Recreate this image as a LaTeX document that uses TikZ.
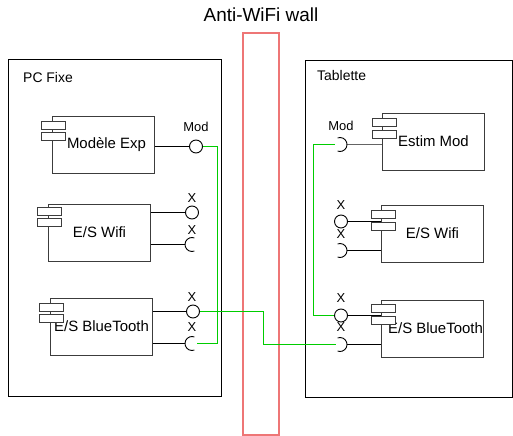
\documentclass[tikz,border=0pt]{standalone}
\usepackage{fontspec}
\setmainfont{Liberation Sans}
\begin{document}
\begin{tikzpicture}[x=1bp,y=-1bp,
  container/.style={draw=black,line width=0.9bp},
  comp/.style={draw={rgb,255:red,60;green,60;blue,60},line width=0.9bp,fill=white,minimum width=102bp,minimum height=57bp,inner sep=0pt,font=\fontsize{15}{17}\selectfont},
  tab/.style={draw={rgb,255:red,60;green,60;blue,60},line width=0.9bp,fill=white,minimum width=24bp,minimum height=8.5bp,inner sep=0pt},
  ball/.style={draw=black,line width=0.9bp,circle,minimum size=13bp,inner sep=0pt,fill=white},
  wire/.style={draw=black,line width=0.9bp},
  greenwire/.style={draw={rgb,255:red,0;green,205;blue,0},line width=1.4bp},
  plab/.style={font=\fontsize{13}{15}\selectfont,inner sep=0pt},
  clab/.style={font=\fontsize{14}{16}\selectfont,inner sep=0pt,anchor=west},
  wall/.style={draw={rgb,255:red,238;green,118;blue,118},line width=1.2bp}
]
\useasboundingbox (0,0) rectangle (513,436);
% title and wall
\node[font=\fontsize{19}{22}\selectfont,inner sep=0pt] (title) at (261,15) {Anti-WiFi wall};
\node[wall,minimum width=36bp,minimum height=402bp,inner sep=0pt] (wall) at (261,234) {};
% containers
\node[container,minimum width=213bp,minimum height=337bp,inner sep=0pt] (pc) at (115,228) {};
\node[clab] (pclab) at (23,78) {PC Fixe};
\node[container,minimum width=207bp,minimum height=337bp,inner sep=0pt] (tab) at (409,229) {};
\node[clab] (tablab) at (317,76) {Tablette};

% ---------- Left components ----------
% Modele Exp
\node[ball] (mec) at (196,146.5) {};
\node[plab] (mecl) at (196,127) {Mod};
\node[comp] (me) at (103.5,145) {\hspace{6pt}Modèle Exp};
\node[tab] (met1) at (53.5,125.5) {};
\node[tab] (met2) at (53.5,136.5) {};
\draw[wire] (mec.west -| me.east) -- (mec.west);

% E/S Wifi
\node[comp] (lw) at (99.5,232.5) {E/S Wifi};
\node[tab] (lwt1) at (49.5,211.5) {};
\node[tab] (lwt2) at (49.5,222.5) {};
\node[ball] (lwc) at (192,212.5) {};
\node[plab] (lwcl) at (192,198) {X};
\coordinate (lws) at (192,244.5);
\node[plab] (lwsl) at (192,230) {X};
\draw[wire] (lwc.west -| lw.east) -- (lwc.west);
\draw[wire] (lws -| lw.east) -- ([xshift=-7bp]lws);
\draw[wire] ([shift={(70:7)}]lws) arc[start angle=70,end angle=290,radius=7];

% E/S BlueTooth
\node[comp] (lb) at (101.5,326.5) {E/S BlueTooth};
\node[tab] (lbt1) at (51.5,307.5) {};
\node[tab] (lbt2) at (51.5,318.5) {};
\node[ball] (lbc) at (193,311.5) {};
\node[plab] (lbcl) at (192,297) {X};
\coordinate (lbs) at (192,343.5);
\node[plab] (lbsl) at (192,327) {X};
\draw[wire] (lbc.west -| lb.east) -- (lbc.west);
\draw[wire] (lbs -| lb.east) -- ([xshift=-7bp]lbs);
\draw[wire] ([shift={(70:7)}]lbs) arc[start angle=70,end angle=290,radius=7];

% ---------- Right components ----------
% Estim Mod
\node[comp] (em) at (433.5,141.5) {Estim Mod};
\node[tab] (emt1) at (384.5,122.5) {};
\node[tab] (emt2) at (384.5,134.5) {};
\coordinate (ems) at (340,144.5);
\node[plab] (emsl) at (341,126) {Mod};
\draw[wire,draw={rgb,255:red,100;green,100;blue,100}] ([xshift=7bp]ems) -- (ems -| em.west);
\draw[wire] ([shift={(-110:7)}]ems) arc[start angle=-110,end angle=110,radius=7];

% E/S Wifi right
\node[ball] (rwc) at (341,221.5) {};
\node[plab] (rwcl) at (341,205) {X};
\coordinate (rws) at (340,250.5);
\node[plab] (rwsl) at (341,234) {X};
\node[comp] (rw) at (432.5,233.5) {E/S Wifi};
\draw[wire] (rwc.east) -- (rwc.east -| rw.west);
\draw[wire] ([xshift=7bp]rws) -- (rws -| rw.west);
\draw[wire] ([shift={(-110:7)}]rws) arc[start angle=-110,end angle=110,radius=7];
\node[tab] (rwt1) at (383.5,214.5) {};
\node[tab] (rwt2) at (383.5,226.5) {};

% E/S BlueTooth right
\node[ball] (rbc) at (341,315.5) {};
\node[plab] (rbcl) at (341,298) {X};
\coordinate (rbs) at (340,344.5);
\node[plab] (rbsl) at (341,327) {X};
\node[comp] (rb) at (432.5,328.5) {\hspace{6pt}E/S BlueTooth};
\draw[wire] (rbc.east) -- (rbc.east -| rb.west);
\draw[wire] ([xshift=7bp]rbs) -- (rbs -| rb.west);
\draw[wire] ([shift={(-110:7)}]rbs) arc[start angle=-110,end angle=110,radius=7];
\node[tab] (rbt1) at (383.5,308.5) {};
\node[tab] (rbt2) at (383.5,320.5) {};

% ---------- Green connections ----------
\coordinate (gl1) at (217.5,146.5);
\draw[greenwire] (mec.east) -- (gl1) |- ([xshift=5bp]lbs);
\coordinate (gm) at (263.5,311.5);
\draw[greenwire] (lbc.east) -- (gm) |- ([xshift=-4bp]rbs);
\coordinate (gr1) at (313.5,144.5);
\draw[greenwire] ([xshift=-5bp]ems) -- (gr1) |- (rbc.west);
\end{tikzpicture}
\end{document}
